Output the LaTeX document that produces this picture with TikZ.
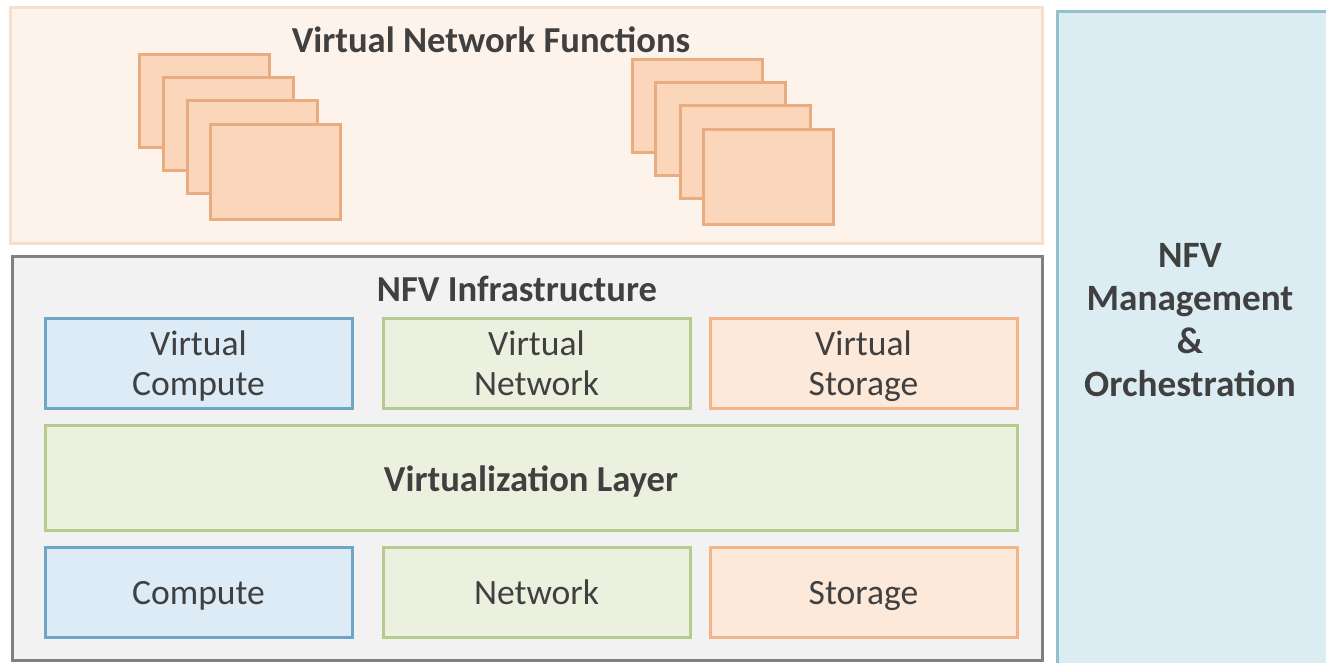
\documentclass[tikz,border=0pt]{standalone}
\usepackage{fontspec}
\setmainfont{Carlito}
\newcommand{\mystrut}{\rule[-4pt]{0pt}{20pt}}
\definecolor{txt}{HTML}{404040}
\definecolor{vnffill}{HTML}{FDF3EB}
\definecolor{vnfdraw}{HTML}{F6DFCC}
\definecolor{stackfill}{HTML}{FBD6BA}
\definecolor{stackdraw}{HTML}{E8AC80}
\definecolor{infill}{HTML}{F2F2F2}
\definecolor{indraw}{HTML}{808080}
\definecolor{bluefill}{HTML}{DCEBF5}
\definecolor{bluedraw}{HTML}{6FA6C6}
\definecolor{greenfill}{HTML}{EBF1DE}
\definecolor{greendraw}{HTML}{B6CB90}
\definecolor{orangefill}{HTML}{FDE9DA}
\definecolor{orangedraw}{HTML}{F3B588}
\definecolor{manofill}{HTML}{DBEDF3}
\definecolor{manodraw}{HTML}{93BFCE}
\begin{document}
\begin{tikzpicture}[x=0.5pt,y=-0.5pt,
  every node/.style={font=\fontsize{17.8}{20}\selectfont, text=txt, inner sep=0pt, outer sep=0pt},
  titletext/.style={font=\fontsize{18.3}{20}\selectfont\bfseries},
  boxbase/.style={anchor=north west, line width=1.5pt, align=center, minimum width=153.5pt, minimum height=45pt},
  bluebox/.style={boxbase, fill=bluefill, draw=bluedraw},
  greenbox/.style={boxbase, fill=greenfill, draw=greendraw},
  orangebox/.style={boxbase, fill=orangefill, draw=orangedraw},
  stackbox/.style={anchor=north west, fill=stackfill, draw=stackdraw, line width=1.5pt, minimum width=65pt, minimum height=46.5pt},
  manotext/.style={font=\fontsize{18.6}{21.5}\selectfont\bfseries, align=center}
]
\useasboundingbox (0,0) rectangle (1326,663);
\clip (0,0) rectangle (1326,663);
\fill[white] (0,0) rectangle (1326,663);

% VNF layer
\node[anchor=north west, fill=vnffill, draw=vnfdraw, line width=1.5pt, minimum width=516pt, minimum height=117.5pt] (vnf) at (10,8) {};
\node[titletext] (vnft) at (491,40) {Virtual Network Functions};

\node[stackbox] (la) at (139,55) {};
\node[stackbox] (lb) at (163,78) {};
\node[stackbox] (lc) at (187,101) {};
\node[stackbox, minimum height=47.5pt] (ld) at (210,125) {};

\node[stackbox] (ra) at (632,60) {};
\node[stackbox] (rb) at (655,83) {};
\node[stackbox] (rc) at (680,106) {};
\node[stackbox, minimum height=47.5pt] (rd) at (703,130) {};

% NFV Infrastructure
\node[anchor=north west, fill=infill, draw=indraw, line width=1.5pt, minimum width=515pt, minimum height=202pt] (nfvi) at (12,256) {};
\node[titletext] (nfvit) at (517,289) {NFV Infrastructure};

\node[bluebox] (vcomp) at (45,318) {Virtual\mystrut\\Compute\mystrut};
\node[greenbox] (vnet) at (383,318) {Virtual\mystrut\\Network\mystrut};
\node[orangebox] (vstor) at (710,318) {Virtual\mystrut\\Storage\mystrut};

\node[greenbox, minimum width=486pt, minimum height=52.5pt, font=\fontsize{18.3}{20}\selectfont\bfseries] (vlayer) at (45,425) {\rule[-3pt]{0pt}{20pt}Virtualization Layer};

\node[bluebox] (comp) at (45,547) {Compute\mystrut};
\node[greenbox] (net) at (383,547) {Network\mystrut};
\node[orangebox] (stor) at (710,547) {Storage\mystrut};

% MANO
\node[anchor=north west, fill=manofill, draw=manodraw, line width=1.5pt, minimum width=137pt, minimum height=327.5pt] (mano) at (1057,12) {};
\node[manotext] (manot) at (1190,320) {NFV\\Management\\\&\\Orchestration};
\end{tikzpicture}
\end{document}
